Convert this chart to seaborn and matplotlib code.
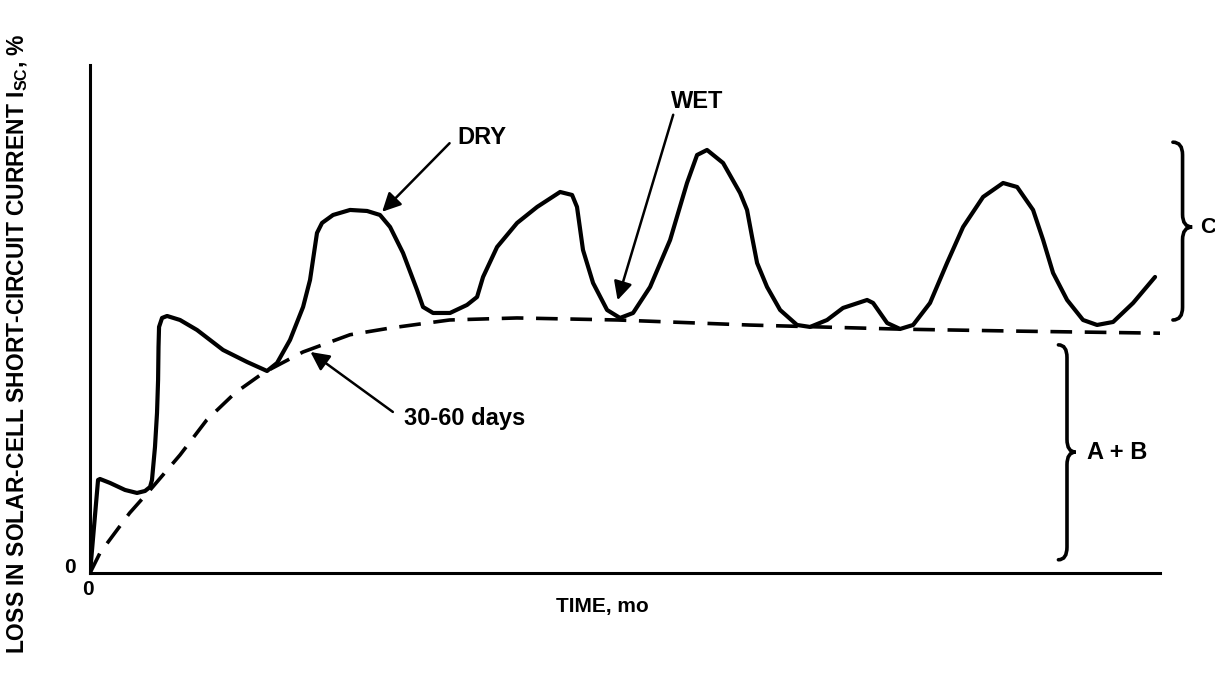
import pandas as pd
import seaborn as sns
import matplotlib.pyplot as plt
from matplotlib.path import Path
from matplotlib.patches import PathPatch

# time as % of the plotted span, loss as % of axis height
solid_t = [0, 0.75, 0.93, 1.87, 3.27, 4.39, 5.14, 5.61, 5.79, 6.07, 6.26, 6.36, 6.40,
           6.45, 6.73, 7.20, 8.41, 10.0, 12.43, 14.67, 16.54, 17.48, 18.69, 19.91,
           20.56, 21.21, 21.68, 22.71, 24.30, 25.89, 27.10, 28.04, 29.25, 30.56,
           31.12, 32.06, 33.64, 35.23, 36.17, 36.73, 38.04, 39.91, 41.78, 43.93,
           45.05, 45.51, 46.07, 47.01, 48.32, 49.53, 50.75, 52.34, 54.21, 55.79,
           56.73, 57.66, 59.16, 60.75, 61.40, 61.87, 62.34, 63.27, 64.49, 66.07,
           67.29, 68.88, 70.37, 72.62, 73.18, 74.49, 75.70, 76.92, 78.50, 80.09,
           81.59, 83.46, 85.33, 86.64, 88.13, 89.07, 90.00, 91.31, 92.80, 94.11,
           95.61, 97.48, 99.53]
solid_loss = [0, 18.31, 18.50, 17.72, 16.34, 15.75, 16.14, 16.93, 18.31, 24.80, 31.50, 37.99, 44.49,
              48.43, 50.20, 50.59, 49.80, 47.83, 43.90, 41.54, 39.76, 41.34, 45.87, 52.36,
              57.68, 66.93, 68.90, 70.47, 71.46, 71.26, 70.47, 68.11, 62.99, 55.71,
              52.36, 51.18, 51.18, 52.76, 54.33, 58.27, 64.17, 68.90, 72.05, 75.00,
              74.41, 72.05, 63.58, 57.09, 51.77, 50.20, 51.18, 56.30, 65.55, 76.77,
              82.28, 83.27, 80.71, 74.80, 71.46, 66.14, 61.02, 56.30, 51.77, 48.82,
              48.43, 49.80, 52.17, 53.74, 53.15, 49.21, 48.03, 48.82, 53.15, 61.02,
              68.11, 74.02, 76.77, 75.98, 71.46, 65.55, 59.06, 53.74, 49.80, 48.82,
              49.41, 53.15, 58.27]

dashed_t = [0, 0.93, 3.7, 5.6, 8.41, 10.9, 13.55, 16.2, 19.9, 24.3, 28.0, 33.6, 39.9,
            49.3, 61.7, 75.7, 86.9, 100]
dashed_loss = [0, 3.94, 11.8, 16.3, 23.23, 30.1, 35.43, 39.4, 43.5, 46.9, 48.2, 49.8, 50.2,
               49.8, 48.8, 48.0, 47.6, 47.2]

solid = pd.DataFrame({'t': solid_t, 'loss': solid_loss})
dashed = pd.DataFrame({'t': dashed_t, 'loss': dashed_loss})

sns.set_theme(style='white')
plt.rcParams['font.family'] = ['Liberation Sans', 'DejaVu Sans']
plt.rcParams['text.color'] = 'black'
plt.rcParams['axes.labelcolor'] = 'black'
plt.rcParams['mathtext.fontset'] = 'custom'
plt.rcParams['mathtext.rm'] = 'Liberation Sans'
plt.rcParams['mathtext.bf'] = 'Liberation Sans:bold'

fig = plt.figure(figsize=(12.15, 6.74), dpi=100)
ax = fig.add_axes([0.0741, 0.1499, 0.8807, 0.7537])

sns.lineplot(data=solid, x='t', y='loss', ax=ax, color='black', lw=3,
             sort=False, estimator=None,
             solid_joinstyle='round', solid_capstyle='round')
sns.lineplot(data=dashed, x='t', y='loss', ax=ax, color='black', lw=2.6,
             sort=False, estimator=None, linestyle=(0, (6, 3.5)))

ax.set_xlim(0, 100)
ax.set_ylim(0, 100)
ax.set_xticks([])
ax.set_yticks([])
for side in ['top', 'right']:
    ax.spines[side].set_visible(False)
for side in ['left', 'bottom']:
    ax.spines[side].set_color('black')
    ax.spines[side].set_linewidth(2.2)

ax.set_xlabel('TIME, mo', fontsize=15, fontweight='bold')
ax.xaxis.set_label_coords(0.4785, -0.047)
ax.set_ylabel(r'LOSS IN SOLAR-CELL SHORT-CIRCUIT CURRENT I$_{\mathbf{SC}}$, %',
              fontsize=16.5, fontweight='bold')
ax.yaxis.set_label_coords(-0.0561, 0.452)

ax.text(-1.9, 1.0, '0', fontsize=15, fontweight='bold', ha='center', va='center', clip_on=False)
ax.text(-0.2, -3.3, '0', fontsize=15, fontweight='bold', ha='center', va='center', clip_on=False)

arrow = dict(arrowstyle='-|>', color='black', lw=1.8, mutation_scale=28,
             shrinkA=0, shrinkB=0)
ax.annotate('', xy=(27.3, 71.1), xytext=(33.6, 84.6), arrowprops=arrow)
ax.text(34.3, 85.8, 'DRY', fontsize=17, fontweight='bold', ha='left', va='center')
ax.annotate('', xy=(49.3, 53.7), xytext=(54.5, 90.2), arrowprops=arrow)
ax.text(54.3, 92.9, 'WET', fontsize=17, fontweight='bold', ha='left', va='center')
ax.annotate('', xy=(20.6, 43.5), xytext=(28.3, 31.7), arrowprops=arrow)
ax.text(29.3, 30.5, '30-60 days', fontsize=17, fontweight='bold', ha='left', va='center')


def brace(x, y0, y1, ym, w, r):
    verts = [(x - w, y1), (x, y1), (x, y1 - r), (x, ym + r), (x, ym), (x + w, ym),
             (x, ym), (x, ym - r), (x, y0 + r), (x, y0), (x - w, y0)]
    codes = [Path.MOVETO, Path.CURVE3, Path.CURVE3, Path.LINETO, Path.CURVE3, Path.CURVE3,
             Path.CURVE3, Path.CURVE3, Path.LINETO, Path.CURVE3, Path.CURVE3]
    ax.add_patch(PathPatch(Path(verts, codes), fill=False, lw=2.6, color='black',
                           clip_on=False, capstyle='round'))


brace(102.1, 49.8, 84.8, 68.1, 0.9, 2.5)
ax.text(103.7, 68.1, 'C', fontsize=16, fontweight='bold', ha='left', va='center', clip_on=False)
brace(91.3, 2.6, 44.9, 23.8, 0.8, 2.5)
ax.text(93.2, 23.8, 'A + B', fontsize=17, fontweight='bold', ha='left', va='center')

fig.savefig('out.png', dpi=100)
